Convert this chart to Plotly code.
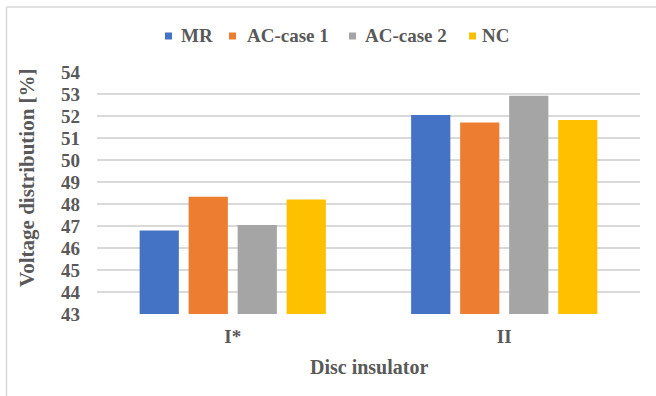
import plotly.graph_objects as go

# Data
categories = ["I*", "II"]
series_names = ["MR", "AC-case 1", "AC-case 2", "NC"]
mr = [46.8, 52.05]
ac_case1 = [48.33, 51.7]
ac_case2 = [47.05, 52.92]
nc = [48.2, 51.82]
series_values = [mr, ac_case1, ac_case2, nc]
colors = ["#4472C4", "#ED7D31", "#A5A5A5", "#FFC000"]
y_ticks = list(range(43, 55))

W, H = 656, 396
L, R, T, B = 97, 16, 72, 82
PW, PH = W - L - R, H - T - B
TEXT = "#595959"
FONT = "Liberation Serif"


def px_x(px):
    return (px - L) / PW


def px_y(py):
    return (H - B - py) / PH


fig = go.Figure()
for name, vals, col in zip(series_names, series_values, colors):
    fig.add_trace(go.Bar(x=categories, y=vals, name=name, marker_color=col,
                         marker_line_width=0, showlegend=False))

# Legend drawn as small squares plus labels across the top
legend_marker_x = [165, 229, 349, 469]
legend_text_x = [179, 245, 363, 480]
shapes = []
annotations = []
for name, col, mx, tx in zip(series_names, colors, legend_marker_x, legend_text_x):
    shapes.append(dict(type="rect", xref="paper", yref="paper",
                       x0=px_x(mx), x1=px_x(mx + 7), y0=px_y(39.5), y1=px_y(32.5),
                       fillcolor=col, line_width=0))
    annotations.append(dict(text=name, xref="paper", yref="paper",
                            x=px_x(tx), y=px_y(35.5), xanchor="left", yanchor="middle",
                            showarrow=False,
                            font=dict(family=FONT, size=19, color=TEXT, weight="bold")))

# Axis titles
annotations.append(dict(text="Voltage distribution [%]", xref="paper", yref="paper",
                        x=px_x(27), y=px_y(178), textangle=-90, xanchor="center",
                        yanchor="middle", showarrow=False,
                        font=dict(family=FONT, size=21, color=TEXT, weight="bold")))
annotations.append(dict(text="Disc insulator", xref="paper", yref="paper",
                        x=0.5, y=px_y(367), xanchor="center", yanchor="middle",
                        showarrow=False,
                        font=dict(family=FONT, size=20, color=TEXT, weight="bold")))

# Chart frame (left and top edges)
shapes.append(dict(type="line", xref="paper", yref="paper",
                   x0=px_x(6.5), x1=px_x(6.5), y0=px_y(7), y1=px_y(420),
                   line=dict(color="#D9D9D9", width=1.5)))
shapes.append(dict(type="line", xref="paper", yref="paper",
                   x0=px_x(6.5), x1=px_x(680), y0=px_y(7), y1=px_y(7),
                   line=dict(color="#D9D9D9", width=1.5)))

fig.update_layout(
    width=W, height=H,
    margin=dict(l=L, r=R, t=T, b=B, autoexpand=False),
    paper_bgcolor="white", plot_bgcolor="white",
    barmode="group", bargap=0.278, bargroupgap=0.2,
    shapes=shapes, annotations=annotations,
    showlegend=False,
    xaxis=dict(showgrid=False, showline=False, ticks="",
               tickfont=dict(family=FONT, size=19, color=TEXT, weight="bold"),
               ticklabelstandoff=9),
    yaxis=dict(range=[43, 54], tickvals=y_ticks, showgrid=True,
               gridcolor="#D9D9D9", gridwidth=1.5, showline=False, zeroline=False,
               ticks="", ticklabelstandoff=16,
               tickfont=dict(family=FONT, size=19, color=TEXT, weight="bold")),
)

fig.write_html("out.html")
